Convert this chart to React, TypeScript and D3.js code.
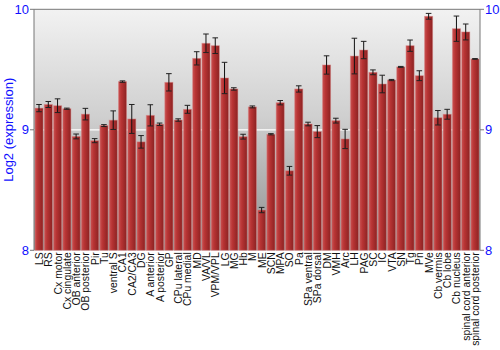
import React from "react";
import * as d3 from "d3";

const categories = [
  "LS", "RS", "Cx motor", "Cx cingulate", "OB anterior", "OB posterior", "Pir", "Tu",
  "ventral S", "CA1", "CA2/CA3", "DG", "A anterior", "A posterior", "GP", "CPu lateral",
  "CPu medial", "MD", "VA/VL", "VPM/VPL", "LG", "MG", "Hb", "M", "ME", "SCN", "MPA", "SO",
  "Pa", "SPa ventral", "SPa dorsal", "DM", "VMH", "Arc", "LH", "PAG", "SC", "IC", "VTA",
  "SN", "Tg", "Pn", "MVe", "Cb vermis", "Cb lobe", "Cb nucleus", "spinal cord anterior",
  "spinal cord posterior",
];

const values = [
  9.18, 9.21, 9.2, 9.175, 8.945, 9.13, 8.91, 9.035,
  9.08, 9.4, 9.09, 8.9, 9.12, 9.046, 9.394, 9.081,
  9.17, 9.593, 9.718, 9.698, 9.43, 9.339, 8.943, 9.19, 8.334, 8.963, 9.225, 8.66,
  9.339, 9.048, 8.985, 9.538, 9.076, 8.924, 9.612, 9.662, 9.477, 9.38, 9.413,
  9.522, 9.698, 9.449, 9.942, 9.1, 9.129, 9.839, 9.812,
  9.588,
];

const errors = [
  0.03, 0.025, 0.057, 0.005, 0.02, 0.048, 0.017, 0.008,
  0.077, 0.006, 0.12, 0.052, 0.088, 0.01, 0.072, 0.01,
  0.033, 0.055, 0.077, 0.065, 0.13, 0.01, 0.02, 0.008, 0.022, 0.005, 0.018, 0.036,
  0.026, 0.015, 0.05, 0.076, 0.02, 0.08, 0.148, 0.072, 0.02, 0.073, 0.005,
  0.004, 0.047, 0.041, 0.024, 0.06, 0.041, 0.105, 0.066,
  0.003,
];

const yTicks = [8, 9, 10];
const yLabel = "Log2 (expression)";

const W = 500;
const H = 350;
const left = 34;
const right = 480;
const top = 9.3;
const bottom = 250.3;

export default function App() {
  const x = d3
    .scaleBand<string>()
    .domain(categories)
    .range([left, right])
    .paddingInner(0.12)
    .paddingOuter(0.1);
  const y = d3.scaleLinear().domain([8, 10]).range([bottom, top]);
  const bw = x.bandwidth();
  const font = "'Liberation Sans', Arial, sans-serif";

  return (
    <svg
      width={W}
      height={H}
      style={{ position: "absolute", left: 0, top: 0, background: "#fff" }}
      fontFamily={font}
    >
      <defs>
        <linearGradient id="bg" x1="0" y1="0" x2="0" y2="1">
          <stop offset="0%" stopColor="#f2f2f2" />
          <stop offset="45%" stopColor="#cfcfcf" />
          <stop offset="100%" stopColor="#8e8e8e" />
        </linearGradient>
        <linearGradient id="bar" x1="0" y1="0" x2="1" y2="0">
          <stop offset="0%" stopColor="#c95252" />
          <stop offset="35%" stopColor="#b83434" />
          <stop offset="100%" stopColor="#8c2222" />
        </linearGradient>
      </defs>
      <rect x={left} y={top} width={right - left} height={bottom - top} fill="url(#bg)" />
      {/* grid line at 9 */}
      <line x1={left} x2={right} y1={y(9)} y2={y(9)} stroke="#ffffff" strokeWidth={1.2} />
      {/* bars */}
      {categories.map((c, i) => (
        <rect
          key={c}
          x={x(c)}
          y={y(values[i])}
          width={bw}
          height={bottom - y(values[i])}
          fill="url(#bar)"
          stroke="#d98a8a"
          strokeOpacity={0.6}
          strokeWidth={0.8}
        />
      ))}
      {/* error bars */}
      {categories.map((c, i) => {
        const cx = (x(c) as number) + bw / 2;
        const y1 = y(values[i] + errors[i]);
        const y2 = y(values[i] - errors[i]);
        return (
          <g key={c + "e"}>
            <line x1={cx} x2={cx} y1={y1} y2={y2} stroke="#111" strokeWidth={1} />
            <line x1={cx - 2.8} x2={cx + 2.8} y1={y1} y2={y1} stroke="#222" strokeWidth={1} />
            <line x1={cx - 2.8} x2={cx + 2.8} y1={y2} y2={y2} stroke="#222" strokeWidth={1} />
          </g>
        );
      })}
      {/* frame */}
      <line x1={left} x2={right} y1={top} y2={top} stroke="#777" strokeWidth={1} />
      <line x1={left} x2={left} y1={top} y2={bottom} stroke="#777" strokeWidth={1} />
      <line x1={right} x2={right} y1={top} y2={bottom} stroke="#777" strokeWidth={1} />
      {/* y ticks left & right */}
      {yTicks.map((t) => (
        <g key={"t" + t}>
          <line x1={left - 4} x2={left} y1={y(t)} y2={y(t)} stroke="#777" />
          <text x={left - 5} y={y(t)} dy="0.35em" textAnchor="end" fill="#1010ff" fontSize={13}>
            {t}
          </text>
          <line x1={right} x2={right + 4} y1={y(t)} y2={y(t)} stroke="#777" />
          <text x={right + 5} y={y(t)} dy="0.35em" textAnchor="start" fill="#1010ff" fontSize={13}>
            {t}
          </text>
        </g>
      ))}
      <text
        transform={`translate(13,${(top + bottom) / 2}) rotate(-90)`}
        textAnchor="middle"
        fill="#1010ff"
        fontSize={13}
      >
        {yLabel}
      </text>
      {/* x labels */}
      {categories.map((c) => (
        <text
          key={c + "l"}
          transform={`translate(${(x(c) as number) + bw / 2 + 4},${bottom + 2}) rotate(-90)`}
          textAnchor="end"
          fill="#111"
          fontSize={10.4}
        >
          {c}
        </text>
      ))}
    </svg>
  );
}
